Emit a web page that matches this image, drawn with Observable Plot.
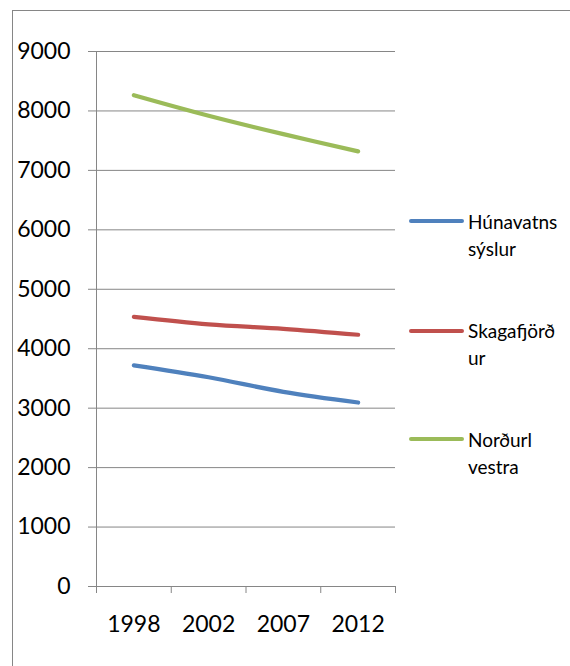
<!DOCTYPE html>
<html><head><meta charset="utf-8">
<script src="https://cdn.jsdelivr.net/npm/d3@7"></script>
<script src="https://cdn.jsdelivr.net/npm/@observablehq/plot@0.6"></script>
<style>
body{margin:0;background:#fff;font-family:Lato,sans-serif;width:570px;height:666px;overflow:hidden;position:relative;}
#frame{position:absolute;left:12px;top:10px;width:620px;height:700px;border:1.5px solid #868686;z-index:2;pointer-events:none;}
#chart{position:absolute;left:0;top:0;}
.leg{position:absolute;left:409px;width:165px;font-size:19px;line-height:27px;color:#000;}
.leg .sw{position:absolute;left:0;top:11.5px;width:55px;height:4px;border-radius:2px;}
.leg .tx{position:absolute;left:59px;top:0;white-space:nowrap;}
</style></head>
<body>
<div id="frame"></div>
<div id="chart"></div>
<div id="legend"></div>
<script>
const years = ["1998", "2002", "2007", "2012"];
const seriesNames = ["Húnavatns\nsýslur", "Skagafjörð\nur", "Norðurl\nvestra"];
const hunavatns = [3720, 3520, 3275, 3095];
const skagafjordur = [4535, 4410, 4335, 4235];
const nordurl = [8265, 7920, 7610, 7320];
const colors = ["#4F81BD", "#C0504D", "#9BBB59"];
const yTicks = [0, 1000, 2000, 3000, 4000, 5000, 6000, 7000, 8000, 9000];

const allSeries = [hunavatns, skagafjordur, nordurl];
const rows = [];
allSeries.forEach((vals, s) => vals.forEach((v, i) => rows.push({s, x: i + 0.5, v})));
const centers = years.map((_, i) => i + 0.5);
const bounds = d3.range(years.length + 1);

const chart = Plot.plot({
  width: 420,
  height: 666,
  marginLeft: 96,
  marginRight: 25,
  marginTop: 51,
  marginBottom: 80,
  style: {background: "transparent", fontFamily: "Lato, sans-serif", fontSize: "23px", color: "#000"},
  x: {domain: [0, years.length]},
  y: {domain: [0, 9000]},
  marks: [
    Plot.gridY(yTicks, {stroke: "#868686", strokeOpacity: 1, strokeWidth: 1}),
    Plot.axisY(yTicks, {tickSize: 8, tickPadding: 18, stroke: "#868686", fill: "#000", fontSize: 23, label: null, tickFormat: d => String(d)}),
    Plot.axisX(bounds, {tickSize: 7, stroke: "#868686", tickFormat: () => "", label: null}),
    Plot.axisX(centers, {tickSize: 0, tickPadding: 29, fill: "#000", fontSize: 23, label: null, tickFormat: d => years[Math.round(d - 0.5)]}),
    Plot.ruleX([0], {stroke: "#868686", strokeWidth: 1}),
    Plot.line(rows, {x: "x", y: "v", z: "s", stroke: d => colors[d.s], strokeWidth: 4.2, curve: "catmull-rom", strokeLinecap: "round", strokeLinejoin: "round"})
  ]
});
document.getElementById("chart").appendChild(chart);

const legendTops = [207.5, 317, 425.5];
const legend = document.getElementById("legend");
seriesNames.forEach((name, i) => {
  const item = document.createElement("div");
  item.className = "leg";
  item.style.top = legendTops[i] + "px";
  const sw = document.createElement("div");
  sw.className = "sw";
  sw.style.background = colors[i];
  const tx = document.createElement("div");
  tx.className = "tx";
  tx.innerHTML = name.split("\n").join("<br>");
  item.appendChild(sw);
  item.appendChild(tx);
  legend.appendChild(item);
});
</script>
</body></html>
